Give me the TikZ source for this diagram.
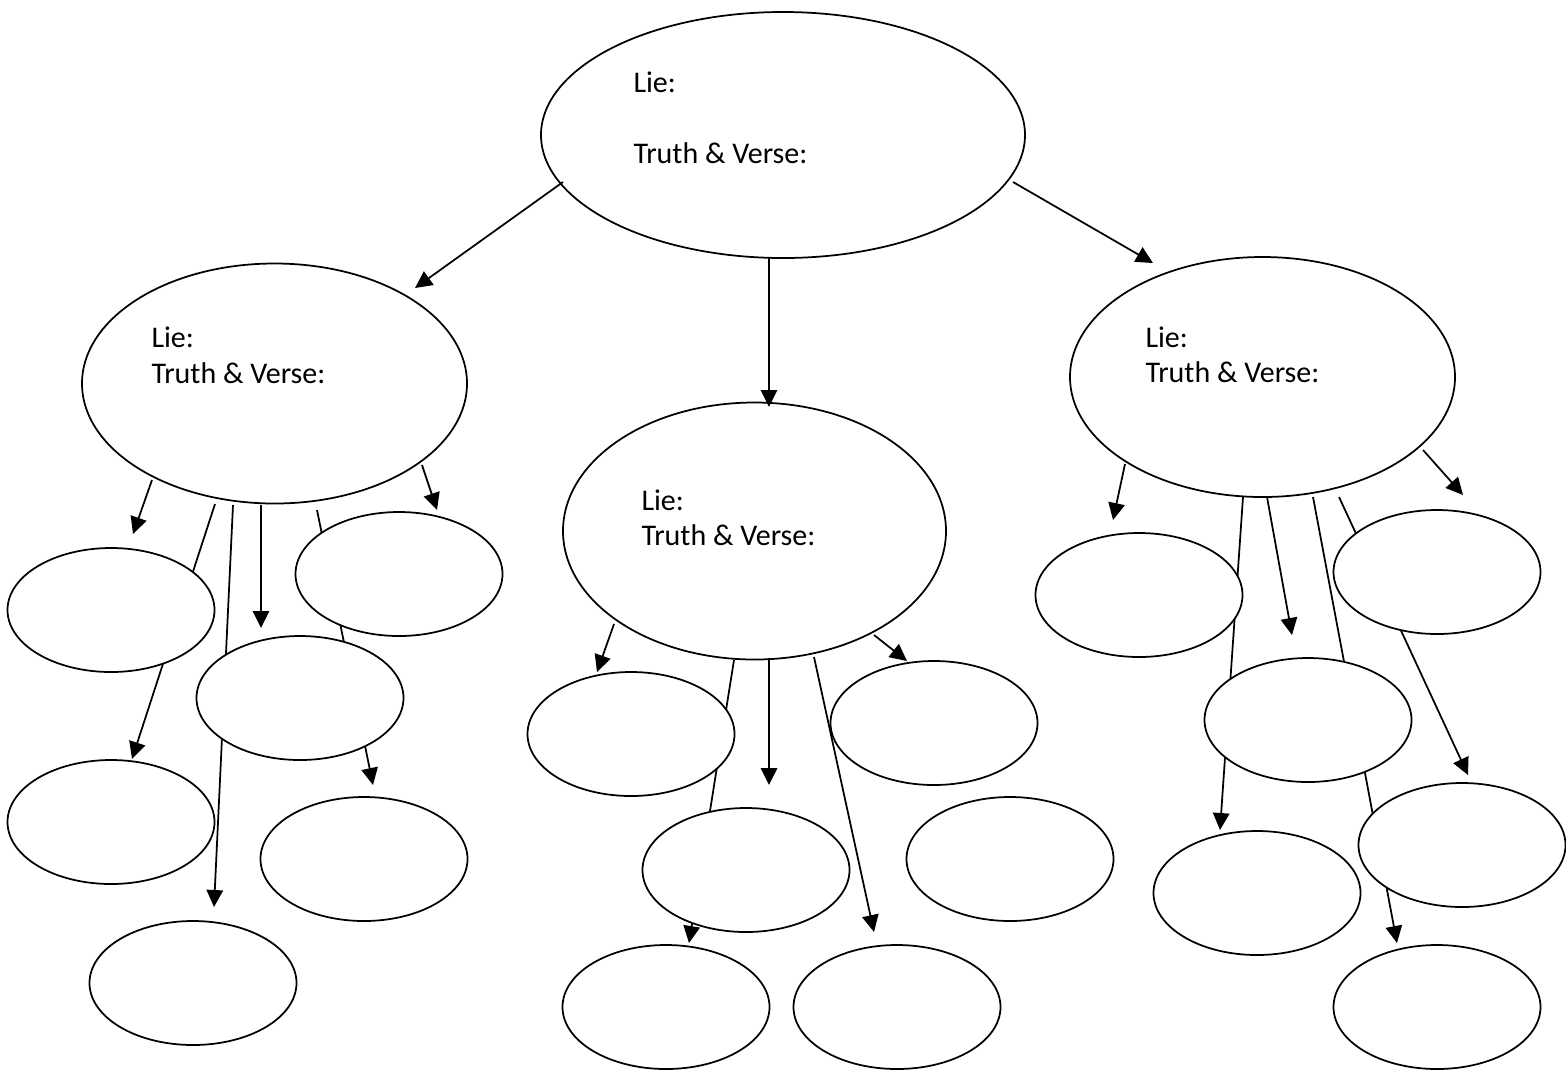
\documentclass[tikz,border=0pt]{standalone}
\usepackage{fontspec}
\setmainfont{Carlito}
\usetikzlibrary{arrows.meta,shapes.geometric}
\tikzset{
  bubble/.style = {ellipse, draw, line width=0.7pt, inner sep=0pt, outer sep=0pt},
  master/.style = {bubble, minimum width=154pt, minimum height=96pt},
  slave/.style = {bubble, fill=white, minimum width=82.8pt, minimum height=49.6pt},
  lbl/.style = {anchor=base west, inner sep=0pt, font=\fontsize{12}{14}\selectfont},
  link/.style = {line width=0.7pt, -{Triangle[length=6.8pt,width=6.6pt]}},
}

\begin{document}
\begin{tikzpicture}[x=0.4pt,y=-0.4pt]
\useasboundingbox (0,0) rectangle (1566,1082);

% the four lie bubbles
\node[master, minimum width=193.6pt, minimum height=98.4pt] (root) at (783,135) {};
\node[master] (lieA) at (274.5,383.5) {};
\node[master, minimum width=153.2pt, minimum height=102.8pt] (lieB) at (754.5,531) {};
\node[master] (lieC) at (1262.5,377) {};

\node[lbl] (rootL) at (633,92) {Lie:};
\node[lbl] (rootT) at (633,163) {Truth \& Verse:};
\node[lbl] (lieAL) at (151,347) {Lie:};
\node[lbl] (lieAT) at (151,383) {Truth \& Verse:};
\node[lbl] (lieBL) at (641,510) {Lie:};
\node[lbl] (lieBT) at (641,545) {Truth \& Verse:};
\node[lbl] (lieCL) at (1145,347) {Lie:};
\node[lbl] (lieCT) at (1145,382) {Truth \& Verse:};

% arrow ends
\coordinate (r1) at (563,182);   \coordinate (r1e) at (415,288);
\coordinate (r2) at (769,257);   \coordinate (r2e) at (769,407);
\coordinate (r3) at (1013,182);  \coordinate (r3e) at (1153,263);

\coordinate (a1) at (152,480);   \coordinate (a1e) at (133,534);
\coordinate (a2) at (215,504);   \coordinate (a2e) at (132,759);
\coordinate (a3) at (233,505);   \coordinate (a3e) at (214,907);
\coordinate (a4) at (261,505);   \coordinate (a4e) at (261,628);
\coordinate (a5) at (317,510);   \coordinate (a5e) at (373,785);
\coordinate (a6) at (422,465);   \coordinate (a6e) at (437,510);

\coordinate (b1) at (614,624);   \coordinate (b1e) at (597,672);
\coordinate (b2) at (734,660);   \coordinate (b2e) at (689,943);
\coordinate (b3) at (769,658);   \coordinate (b3e) at (769,785);
\coordinate (b4) at (814,657);   \coordinate (b4e) at (874,932);
\coordinate (b5) at (874,635);   \coordinate (b5e) at (907,661);

\coordinate (c1) at (1125,464);  \coordinate (c1e) at (1113,520);
\coordinate (c2) at (1243,497);  \coordinate (c2e) at (1220,830);
\coordinate (c3) at (1267,497);  \coordinate (c3e) at (1292,635);
\coordinate (c4) at (1313,497);  \coordinate (c4e) at (1397,943);
\coordinate (c5) at (1339,497);  \coordinate (c5e) at (1468,775);
\coordinate (c6) at (1423,450);  \coordinate (c6e) at (1463,495);

\foreach \s in {r1,r2,r3,a1,a2,a3,a4,a5,a6,b1,b2,b3,b4,b5,c1,c2,c3,c4,c5,c6}
  \draw[link] (\s) -- (\s e);

% the small bubbles go over the arrows
\node[slave] (sA1) at (111,610) {};
\node[slave] (sA2) at (399,574) {};
\node[slave] (sA3) at (300,698) {};
\node[slave] (sA4) at (111,822) {};
\node[slave] (sA5) at (364,859) {};
\node[slave] (sA6) at (193,983) {};

\node[slave] (sB1) at (631,734) {};
\node[slave] (sB2) at (934,723) {};
\node[slave] (sB3) at (746,870) {};
\node[slave] (sB4) at (1010,859) {};
\node[slave] (sB5) at (666,1007) {};
\node[slave] (sB6) at (897,1007) {};

\node[slave] (sC1) at (1139,595) {};
\node[slave] (sC2) at (1437,572) {};
\node[slave] (sC3) at (1308,720) {};
\node[slave] (sC4) at (1257,893) {};
\node[slave] (sC5) at (1462,845) {};
\node[slave] (sC6) at (1437,1007) {};
\end{tikzpicture}
\end{document}
